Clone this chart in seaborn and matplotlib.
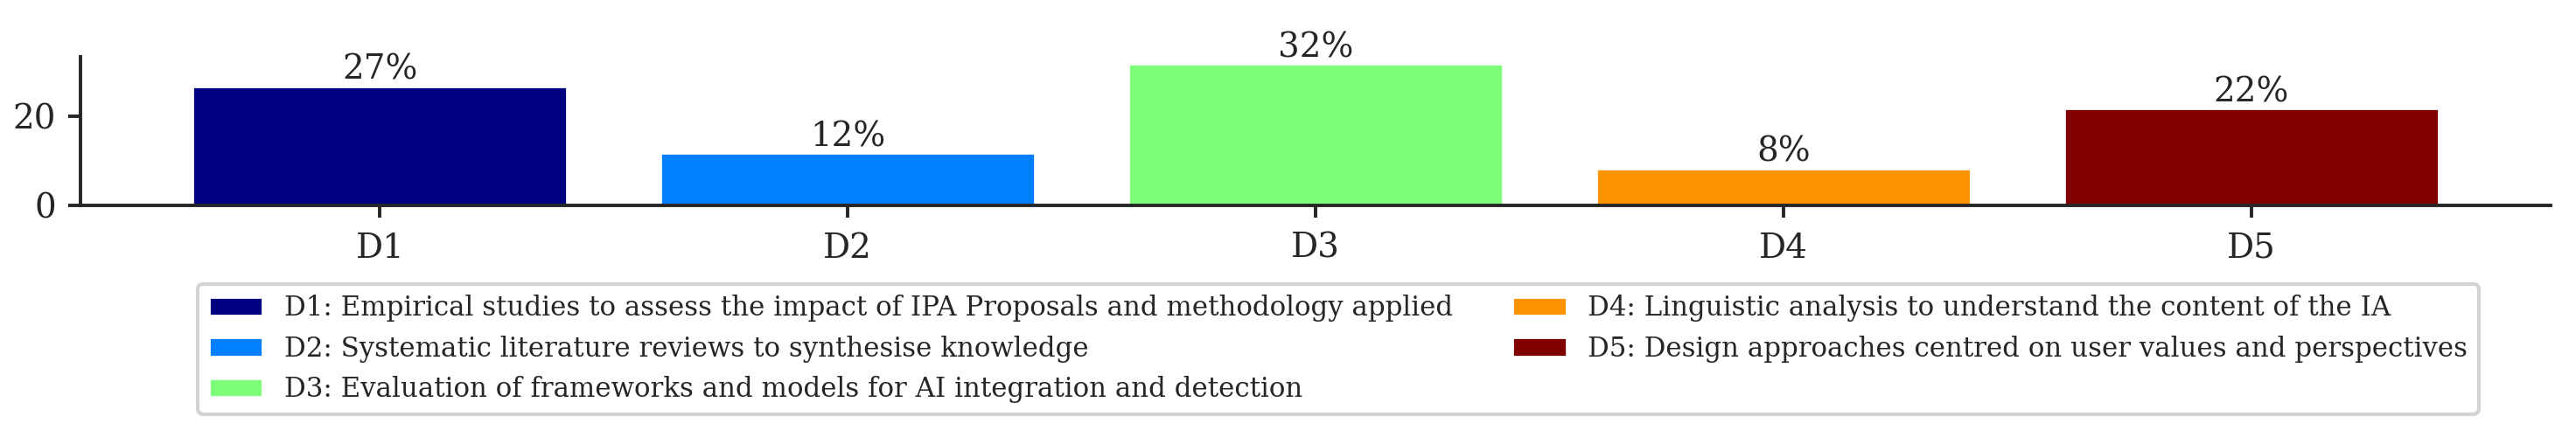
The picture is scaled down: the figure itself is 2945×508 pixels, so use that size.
import matplotlib
matplotlib.use("Agg")
import matplotlib.pyplot as plt
import seaborn as sns
import pandas as pd

categories = ["D1", "D2", "D3", "D4", "D5"]
values = [26.7, 11.7, 31.7, 8.3, 21.7]
descriptions = [
    "D1: Empirical studies to assess the impact of IPA Proposals and methodology applied",
    "D2: Systematic literature reviews to synthesise knowledge",
    "D3: Evaluation of frameworks and models for AI integration and detection",
    "D4: Linguistic analysis to understand the content of the IA",
    "D5: Design approaches centred on user values and perspectives",
]
colors = ["#000080", "#0080ff", "#7dff7a", "#ff9400", "#800000"]

sns.set_style("ticks")
plt.rcParams["font.family"] = ["DejaVu Serif"]

df = pd.DataFrame({"cat": categories, "val": values, "desc": descriptions})

DPI = 200
fig = plt.figure(figsize=(2945 / DPI, 508 / DPI), dpi=DPI)
ax = fig.add_axes([92 / 2945, 1 - 235 / 508, (2916 - 92) / 2945, (235 - 65) / 508])

sns.barplot(data=df, x="cat", y="val", hue="desc", palette=colors,
            dodge=False, width=0.8, saturation=1, ax=ax, legend=True)

for c in ax.containers:
    ax.bar_label(c, labels=[f"{v:.0f}%" for v in c.datavalues], padding=0, fontsize=14)

ax.set_xlim(-0.64, 4.64)
ax.set_ylim(0, 33.3)
ax.set_yticks([0, 20])
ax.set_xlabel("")
ax.set_ylabel("")
ax.tick_params(axis="both", labelsize=14, length=5, width=1.4, pad=5)
ax.tick_params(axis="x", pad=6)
for s in ["left", "bottom"]:
    ax.spines[s].set_linewidth(1.4)
sns.despine(ax=ax)

handles, labels = ax.get_legend_handles_labels()
ax.get_legend().remove()
leg = fig.legend(handles, labels, loc="upper center", bbox_to_anchor=(1530 / 2945, 1 - 325 / 508),
                 ncol=2, fontsize=11.1, frameon=True, fancybox=True, borderaxespad=0,
                 labelspacing=0.5, columnspacing=2.2)
leg.get_frame().set_edgecolor("lightgray")
leg.get_frame().set_linewidth(1.5)
leg.get_frame().set_alpha(1)

fig.savefig("out.png", dpi=DPI)
